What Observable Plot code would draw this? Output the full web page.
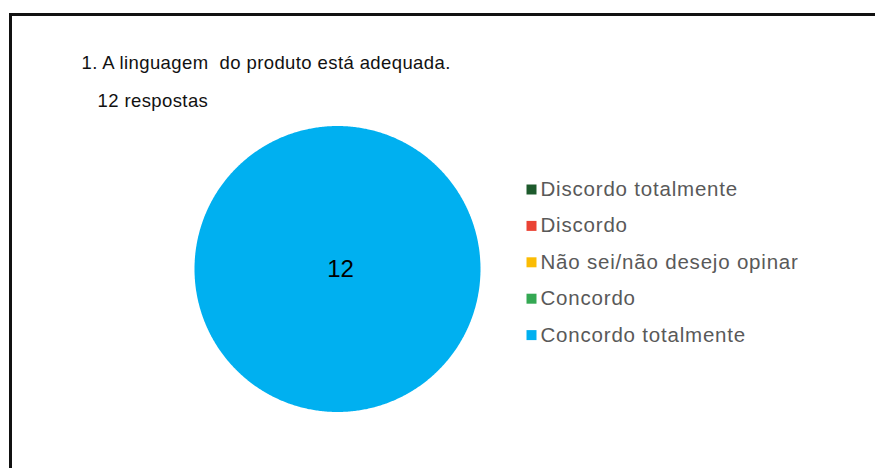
<!DOCTYPE html>
<html>
<head>
<meta charset="utf-8">
<script src="https://cdn.jsdelivr.net/npm/d3@7"></script>
<script src="https://cdn.jsdelivr.net/npm/@observablehq/plot@0.6"></script>
<style>
  html, body { margin: 0; padding: 0; background: #fff; overflow: hidden; }
  #wrap { position: relative; width: 875px; height: 468px; overflow: hidden; }
  #border { position: absolute; left: 9px; top: 13px; width: 900px; height: 500px;
            border: 3px solid #111; box-sizing: border-box; pointer-events: none; }
  #chart { position: absolute; left: 0; top: 0; }
  #chart text { white-space: pre; }
  #chart .ttl text { letter-spacing: 0.4px; }
  #chart .lgd text { letter-spacing: 0.8px; }
</style>
</head>
<body>
<div id="wrap"><div id="chart"></div><div id="border"></div></div>
<script>
const title = "1. A linguagem  do produto está adequada.";
const subtitle = "12 respostas";
const categories = ["Discordo totalmente", "Discordo", "Não sei/não desejo opinar", "Concordo", "Concordo totalmente"];
const values = [0, 0, 0, 0, 12];
const colors = ["#1d5a2c", "#ea4335", "#fbbc04", "#34a853", "#00b0f0"];

// layout
const cx = 337, cy = 268.5, R = 143;
const legendX = 531, legendY0 = 189, legendStep = 36.4;

const data = categories.map((c, i) => ({cat: c, value: values[i], idx: i}));
const arcs = d3.pie().sort(null).value(d => d.value)(data);

const polyPts = [];
const labels = [];
arcs.forEach(a => {
  const full = a.endAngle - a.startAngle >= 2 * Math.PI - 1e-9;
  if (a.endAngle - a.startAngle <= 0) return;
  if (!full) polyPts.push({cat: a.data.cat, x: cx, y: cy});
  const n = Math.max(2, Math.ceil((a.endAngle - a.startAngle) / (Math.PI / 360)));
  for (let k = 0; k <= n; k++) {
    const t = a.startAngle + (a.endAngle - a.startAngle) * k / n;
    polyPts.push({cat: a.data.cat, x: cx + R * Math.sin(t), y: cy - R * Math.cos(t)});
  }
  const mid = (a.startAngle + a.endAngle) / 2;
  const rr = full ? 0 : R * 0.6;
  labels.push({text: String(a.data.value), x: cx + 3 + rr * Math.sin(mid), y: cy + rr * -Math.cos(mid)});
});

const legend = categories.map((c, i) => ({cat: c, x: legendX, y: legendY0 + i * legendStep}));

const chart = Plot.plot({
  width: 875,
  height: 468,
  margin: 0,
  style: {fontFamily: "'Liberation Sans', Arial, sans-serif", background: "transparent"},
  x: {type: "identity", axis: null},
  y: {type: "identity", axis: null},
  color: {domain: categories, range: colors},
  marks: [
    Plot.line(polyPts, {x: "x", y: "y", z: "cat", fill: "cat", stroke: null, curve: "linear"}),
    Plot.text(labels, {x: "x", y: "y", text: "text", fontSize: 24, fill: "#000", textAnchor: "middle", lineAnchor: "middle"}),
    Plot.text([title], {x: () => 81, y: () => 64, text: d => d, fontSize: 18.5, fill: "#111", textAnchor: "start", lineAnchor: "bottom", dy: 4, className: "ttl"}),
    Plot.text([subtitle], {x: () => 97, y: () => 102, text: d => d, fontSize: 18.5, fill: "#111", textAnchor: "start", lineAnchor: "bottom", dy: 4, className: "ttl"}),
    Plot.dot(legend, {x: "x", y: "y", fill: "cat", symbol: "square", r: 5.64, stroke: null}),
    Plot.text(legend, {x: d => d.x + 9, y: "y", text: "cat", fontSize: 20.5, fill: "#595959", textAnchor: "start", lineAnchor: "middle", className: "lgd"})
  ]
});
document.getElementById("chart").appendChild(chart);
</script>
</body>
</html>
